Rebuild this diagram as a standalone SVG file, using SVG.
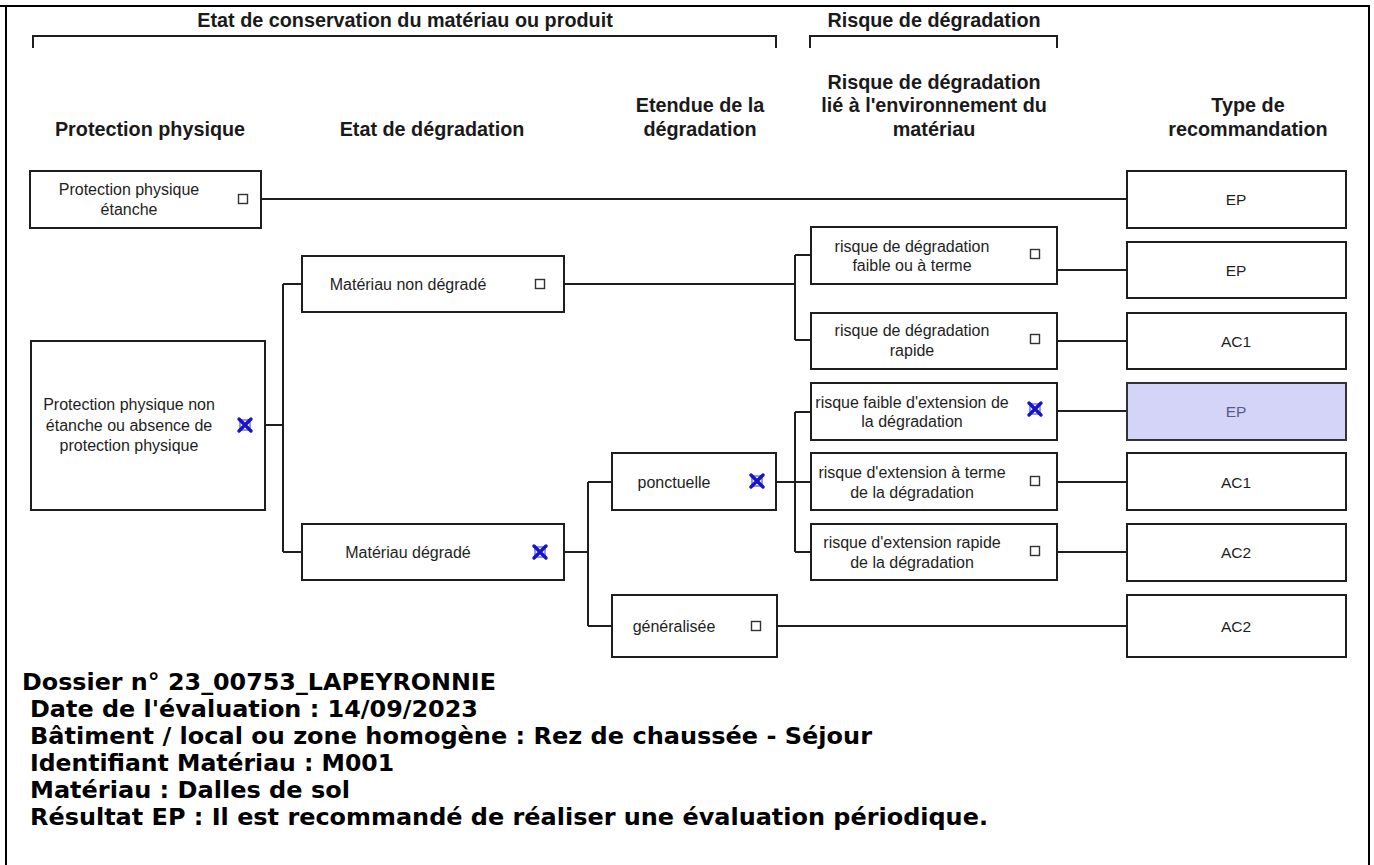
<svg xmlns="http://www.w3.org/2000/svg" width="1374" height="865" viewBox="0 0 1374 865">
<style>
.bg{fill:#fff}
.frame{fill:none;stroke:#000;stroke-width:2}
.box{fill:#fff;stroke:#1e1e1e;stroke-width:2}
.sel{fill:#d3d4f7;stroke:#333;stroke-width:2}
.ln{fill:none;stroke:#1e1e1e;stroke-width:2}
.h{font-family:"Liberation Sans",Arial,sans-serif;font-weight:bold;font-size:19.8px;fill:#1a1a1a;text-anchor:middle}
.t{font-family:"Liberation Sans",Arial,sans-serif;font-size:16px;fill:#1e1e1e;text-anchor:middle}
.r{font-family:"Liberation Sans",Arial,sans-serif;font-size:15.5px;fill:#1e1e1e;text-anchor:middle}
.rs{font-family:"Liberation Sans",Arial,sans-serif;font-size:15.5px;fill:#5a5a8a;text-anchor:middle}
.b{font-family:"DejaVu Sans",Verdana,sans-serif;font-weight:bold;font-size:23px;fill:#000}
.cb{fill:#fff;stroke:#333;stroke-width:1.4}
.xq{fill:none;stroke:#3030d0;stroke-width:1}
.xx{stroke:#1414c8;stroke-width:3.4;stroke-linecap:round}
</style>
<defs>
<g id="cbox"><rect class="cb" x="-4.5" y="-4.5" width="9" height="9"/></g>
<g id="xbox"><rect class="xq" x="-5" y="-5" width="10" height="10"/><path class="xx" d="M-6,-6L6,6M6,-6L-6,6"/></g>
</defs>
<rect class="bg" x="0" y="0" width="1374" height="865"/>
<path class="frame" d="M0,6H1369V865M6,6V865"/>

<g id="headers">
<text class="h" x="405" y="27">Etat de conservation du matériau ou produit</text>
<path class="ln" d="M33,48V36H776V48"/>
<text class="h" x="934" y="27">Risque de dégradation</text>
<path class="ln" d="M810,48V36H1057V48"/>
<text class="h" x="150" y="136">Protection physique</text>
<text class="h" x="432" y="136">Etat de dégradation</text>
<text class="h" x="700" y="112">Etendue de la</text>
<text class="h" x="700" y="136">dégradation</text>
<text class="h" x="934" y="89">Risque de dégradation</text>
<text class="h" x="934" y="112">lié à l'environnement du</text>
<text class="h" x="934" y="136">matériau</text>
<text class="h" x="1248" y="112">Type de</text>
<text class="h" x="1248" y="136">recommandation</text>
</g>

<g id="connectors">
<path class="ln" d="M261,199H1127"/>
<path class="ln" d="M265,425H283M283,284V552M283,284H302M283,552H302"/>
<path class="ln" d="M564,284H795M795,255V340M795,255H811M795,340H811"/>
<path class="ln" d="M1057,270H1127M1057,341H1127M1057,411H1127M1057,482H1127M1057,552H1127"/>
<path class="ln" d="M564,552H588M588,482V626M588,482H612M588,626H612"/>
<path class="ln" d="M776,482H811M795,412V552M795,412H811M795,552H811"/>
<path class="ln" d="M777,626H1127"/>
</g>

<g id="n-protection-etanche">
<rect class="box" x="30" y="171" width="231" height="57"/>
<text class="t" x="129" y="195">Protection physique</text>
<text class="t" x="129" y="215">étanche</text>
<use href="#cbox" x="243" y="199"/>
</g>
<g id="n-protection-non-etanche">
<rect class="box" x="31" y="341" width="234" height="169"/>
<text class="t" x="129" y="410">Protection physique non</text>
<text class="t" x="129" y="431">étanche ou absence de</text>
<text class="t" x="129" y="451">protection physique</text>
<use href="#xbox" x="245" y="425"/>
</g>
<g id="n-non-degrade">
<rect class="box" x="302" y="256" width="262" height="56"/>
<text class="t" x="408" y="290">Matériau non dégradé</text>
<use href="#cbox" x="540" y="284"/>
</g>
<g id="n-degrade">
<rect class="box" x="302" y="524" width="262" height="56"/>
<text class="t" x="408" y="558">Matériau dégradé</text>
<use href="#xbox" x="540" y="552"/>
</g>
<g id="n-ponctuelle">
<rect class="box" x="612" y="453" width="164" height="57"/>
<text class="t" x="674" y="488">ponctuelle</text>
<use href="#xbox" x="757" y="481"/>
</g>
<g id="n-generalisee">
<rect class="box" x="612" y="595" width="165" height="62"/>
<text class="t" x="674" y="632">généralisée</text>
<use href="#cbox" x="756" y="626"/>
</g>
<g id="n-risque-faible">
<rect class="box" x="811" y="227" width="246" height="57"/>
<text class="t" x="912" y="252">risque de dégradation</text>
<text class="t" x="912" y="271">faible ou à terme</text>
<use href="#cbox" x="1035" y="254"/>
</g>
<g id="n-risque-rapide">
<rect class="box" x="811" y="313" width="246" height="56"/>
<text class="t" x="912" y="336">risque de dégradation</text>
<text class="t" x="912" y="356">rapide</text>
<use href="#cbox" x="1035" y="339"/>
</g>
<g id="n-ext-faible">
<rect class="box" x="811" y="383" width="246" height="57"/>
<text class="t" x="912" y="408">risque faible d'extension de</text>
<text class="t" x="912" y="427">la dégradation</text>
<use href="#xbox" x="1035" y="409"/>
</g>
<g id="n-ext-terme">
<rect class="box" x="811" y="453" width="246" height="57"/>
<text class="t" x="912" y="478">risque d'extension à terme</text>
<text class="t" x="912" y="498">de la dégradation</text>
<use href="#cbox" x="1035" y="481"/>
</g>
<g id="n-ext-rapide">
<rect class="box" x="811" y="524" width="246" height="56"/>
<text class="t" x="912" y="548">risque d'extension rapide</text>
<text class="t" x="912" y="568">de la dégradation</text>
<use href="#cbox" x="1035" y="551"/>
</g>

<g id="r1"><rect class="box" x="1127" y="171" width="219" height="57"/><text class="r" x="1236" y="205">EP</text></g>
<g id="r2"><rect class="box" x="1127" y="242" width="219" height="56"/><text class="r" x="1236" y="276">EP</text></g>
<g id="r3"><rect class="box" x="1127" y="313" width="219" height="56"/><text class="r" x="1236" y="347">AC1</text></g>
<g id="r4"><rect class="sel" x="1127" y="383" width="219" height="57"/><text class="rs" x="1236" y="417">EP</text></g>
<g id="r5"><rect class="box" x="1127" y="453" width="219" height="57"/><text class="r" x="1236" y="488">AC1</text></g>
<g id="r6"><rect class="box" x="1127" y="524" width="219" height="57"/><text class="r" x="1236" y="558">AC2</text></g>
<g id="r7"><rect class="box" x="1127" y="595" width="219" height="62"/><text class="r" x="1236" y="632">AC2</text></g>

<g id="info">
<text class="b" x="22" y="690" textLength="474" lengthAdjust="spacingAndGlyphs">Dossier n° 23_00753_LAPEYRONNIE</text>
<text class="b" x="30" y="717" textLength="448" lengthAdjust="spacingAndGlyphs">Date de l'évaluation : 14/09/2023</text>
<text class="b" x="30" y="744" textLength="842" lengthAdjust="spacingAndGlyphs">Bâtiment / local ou zone homogène : Rez de chaussée - Séjour</text>
<text class="b" x="30" y="771" textLength="364" lengthAdjust="spacingAndGlyphs">Identifiant Matériau : M001</text>
<text class="b" x="30" y="798" textLength="320" lengthAdjust="spacingAndGlyphs">Matériau : Dalles de sol</text>
<text class="b" x="30" y="825" textLength="958" lengthAdjust="spacingAndGlyphs">Résultat EP : Il est recommandé de réaliser une évaluation périodique.</text>
</g>
</svg>
